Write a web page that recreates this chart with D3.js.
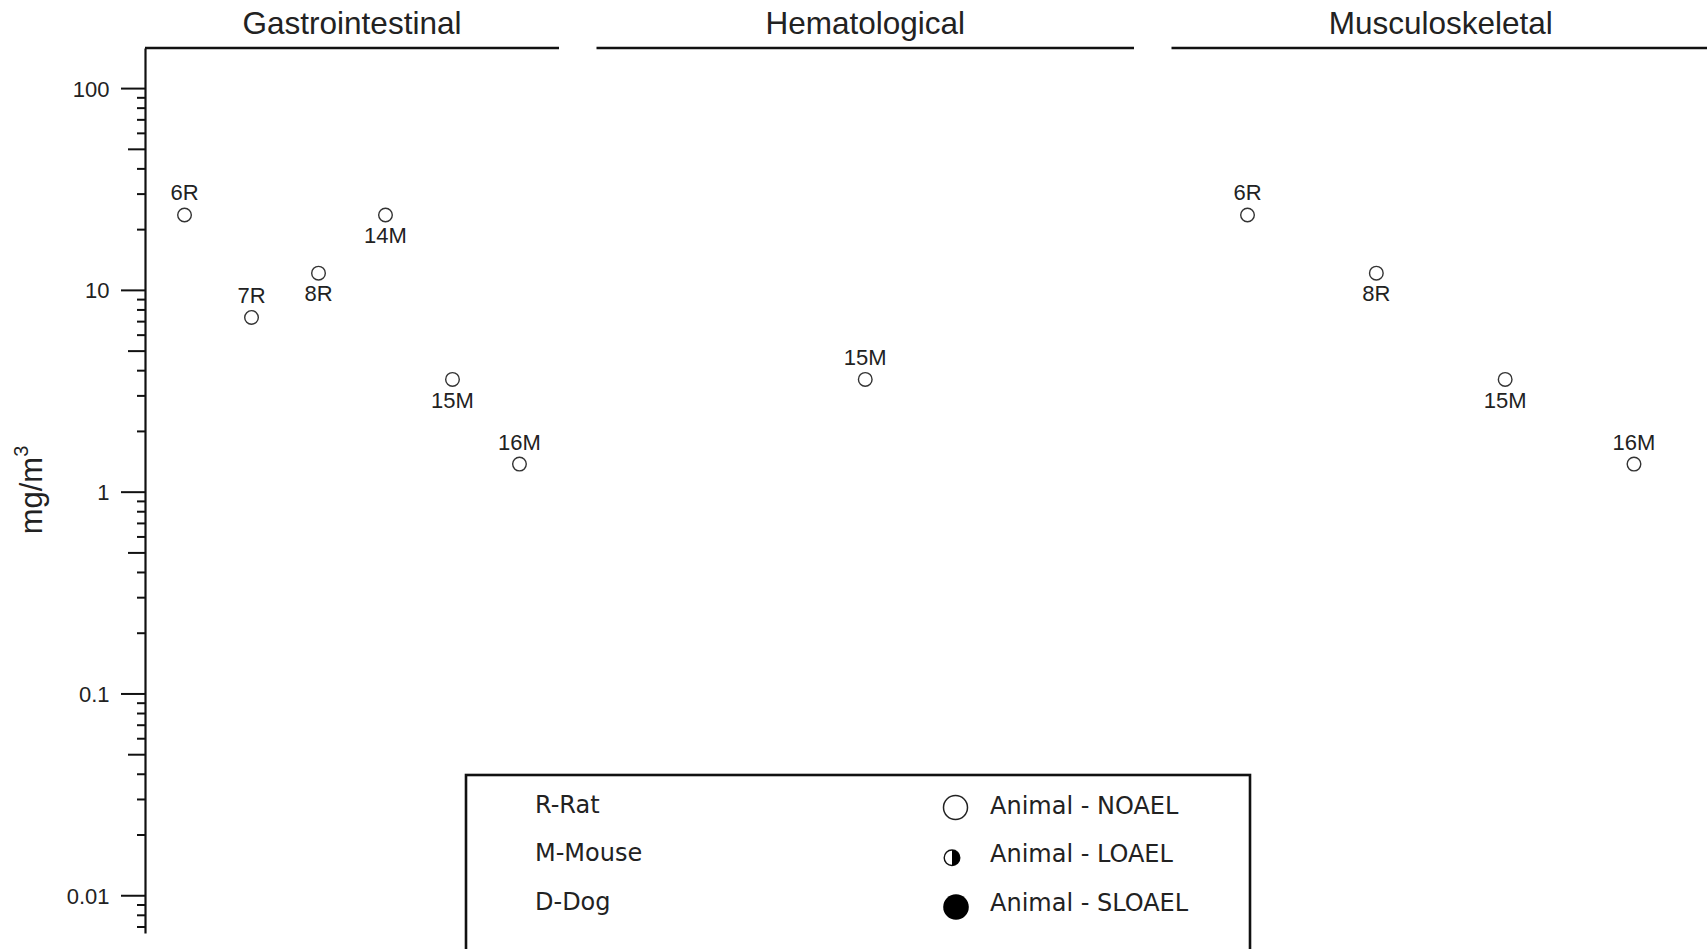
<!DOCTYPE html>
<html>
<head>
<meta charset="utf-8">
<script src="https://cdn.jsdelivr.net/npm/d3@7"></script>
<style>
  body { margin: 0; background: #fff; overflow: hidden; }
  svg { display: block; }
  .axis text { font-family: "Liberation Sans", Arial, sans-serif; }
</style>
</head>
<body>
<div id="chart"></div>
<script>
// panels (organ systems)
var panels = ["Gastrointestinal", "Hematological", "Musculoskeletal"];

// study labels, values (mg/m3) and where the label sits, per panel
var gastroLabels = ["6R", "7R", "8R", "14M", "15M", "16M"];
var gastroValues = [23.5, 7.3, 12.1, 23.5, 3.6, 1.37];
var gastroLabelPos = ["above", "above", "below", "below", "below", "above"];

var hemaLabels = ["15M"];
var hemaValues = [3.6];
var hemaLabelPos = ["above"];

var muscLabels = ["6R", "8R", "15M", "16M"];
var muscValues = [23.5, 12.1, 3.6, 1.37];
var muscLabelPos = ["above", "below", "below", "above"];

// legend
var species = ["R-Rat", "M-Mouse", "D-Dog"];
var effectLevels = ["Animal - NOAEL", "Animal - LOAEL", "Animal - SLOAEL"];

var yDomain = [0.0065, 158];
var majorTicks = [0.01, 0.1, 1, 10, 100];

var panelData = [
    { labels: gastroLabels, values: gastroValues, pos: gastroLabelPos },
    { labels: hemaLabels, values: hemaValues, pos: hemaLabelPos },
    { labels: muscLabels, values: muscValues, pos: muscLabelPos }
];

var width = 1707, height = 949;

var svg = d3.select("#chart").append("svg")
    .attr("width", width)
    .attr("height", height);

// y scale (log)
var axisX = 145, topY = 48, bottomY = 933;
var y = d3.scaleLog()
    .domain(yDomain)
    .range([bottomY, topY]);

var ticks = y.ticks().filter(function(d){ return d <= 100.0001; });

function tickLen(d){
    var m = Math.round(d / Math.pow(10, Math.floor(Math.log10(d) + 1e-9)));
    if (m === 1) return 24;
    if (m === 5) return 17;
    return 8;
}
function isMajor(d){
    return majorTicks.some(function(t){ return Math.abs(t - d) / t < 1e-6; });
}

var yAxis = d3.axisLeft(y)
    .tickValues(ticks)
    .tickSizeOuter(0)
    .tickSizeInner(8)
    .tickFormat(function(d){ return isMajor(d) ? d3.format("~g")(d) : ""; });

var gY = svg.append("g")
    .attr("class", "axis")
    .attr("transform", "translate(" + axisX + ",0)")
    .call(yAxis);

gY.select(".domain")
    .attr("stroke", "#111")
    .attr("stroke-width", 2.2);
gY.selectAll(".tick line")
    .attr("stroke", "#111")
    .attr("stroke-width", 2)
    .attr("x2", function(d){ return -tickLen(d); });
gY.selectAll(".tick text")
    .attr("x", -35.5)
    .attr("dy", "0.36em")
    .attr("fill", "#222")
    .style("font-size", "22px");

// y axis title
svg.append("text")
    .attr("transform", "translate(42,490) rotate(-90)")
    .attr("text-anchor", "middle")
    .attr("fill", "#222")
    .style("font-family", "'Liberation Sans', Arial, sans-serif")
    .style("font-size", "31px")
    .text("mg/m")
    .append("tspan")
    .attr("dy", -14)
    .style("font-size", "20px")
    .text("3");

// panel extents
var panelRanges = [[145, 559], [596.5, 1134], [1171.5, 1710]];

panels.forEach(function(name, i){
    var r = panelRanges[i];
    var pd = panelData[i];

    var x = d3.scalePoint()
        .domain(pd.labels)
        .range(r)
        .padding(0.59);

    var g = svg.append("g").attr("class", "panel");

    g.append("line")
        .attr("x1", r[0]).attr("x2", r[1])
        .attr("y1", topY).attr("y2", topY)
        .attr("stroke", "#111")
        .attr("stroke-width", 2.6);

    g.append("text")
        .attr("x", (r[0] + r[1]) / 2)
        .attr("y", 33.5)
        .attr("text-anchor", "middle")
        .attr("fill", "#222")
        .style("font-family", "'Liberation Sans', Arial, sans-serif")
        .style("font-size", "31.5px")
        .text(name);

    var pts = pd.labels.map(function(l, j){
        return { label: l, value: pd.values[j], pos: pd.pos[j] };
    });

    g.selectAll("circle.pt")
        .data(pts)
        .enter().append("circle")
        .attr("class", "pt")
        .attr("cx", function(d){ return x(d.label); })
        .attr("cy", function(d){ return y(d.value); })
        .attr("r", 6.8)
        .attr("fill", "#fff")
        .attr("stroke", "#333")
        .attr("stroke-width", 1.4);

    g.selectAll("text.lbl")
        .data(pts)
        .enter().append("text")
        .attr("class", "lbl")
        .attr("x", function(d){ return x(d.label); })
        .attr("y", function(d){ return y(d.value) + (d.pos === "above" ? -14.5 : 28.3); })
        .attr("text-anchor", "middle")
        .attr("fill", "#222")
        .style("font-family", "'Liberation Sans', Arial, sans-serif")
        .style("font-size", "22px")
        .text(function(d){ return d.label; });
});

// legend
var legend = svg.append("g").attr("class", "legend");
legend.append("rect")
    .attr("x", 466).attr("y", 775)
    .attr("width", 784).attr("height", 200)
    .attr("fill", "#fff")
    .attr("stroke", "#111")
    .attr("stroke-width", 2.6);

var rowY = d3.scalePoint().domain(d3.range(3)).range([812.5, 910]);

legend.selectAll("text.sp")
    .data(species)
    .enter().append("text")
    .attr("class", "sp")
    .attr("x", 535)
    .attr("y", function(d, i){ return rowY(i); })
    .attr("fill", "#222")
    .style("font-family", "'DejaVu Sans', sans-serif")
    .style("font-size", "24px")
    .text(function(d){ return d; });

legend.selectAll("text.ef")
    .data(effectLevels)
    .enter().append("text")
    .attr("class", "ef")
    .attr("x", 990)
    .attr("y", function(d, i){ return rowY(i) + 1; })
    .attr("fill", "#222")
    .style("font-family", "'DejaVu Sans', sans-serif")
    .style("font-size", "24px")
    .text(function(d){ return d; });

// symbols
legend.append("circle")
    .attr("cx", 955.5).attr("cy", rowY(0) - 5)
    .attr("r", 12)
    .attr("fill", "#fff")
    .attr("stroke", "#222")
    .attr("stroke-width", 1.5);

var half = legend.append("g")
    .attr("transform", "translate(952," + (rowY(1) - 3.5) + ")");
half.append("circle")
    .attr("r", 7.8)
    .attr("fill", "#fff")
    .attr("stroke", "#111")
    .attr("stroke-width", 1.4);
half.append("path")
    .attr("d", d3.arc().innerRadius(0).outerRadius(7.8).startAngle(0).endAngle(Math.PI)())
    .attr("fill", "#000");

legend.append("circle")
    .attr("cx", 956).attr("cy", rowY(2) - 3)
    .attr("r", 12.8)
    .attr("fill", "#000");
</script>
</body>
</html>
